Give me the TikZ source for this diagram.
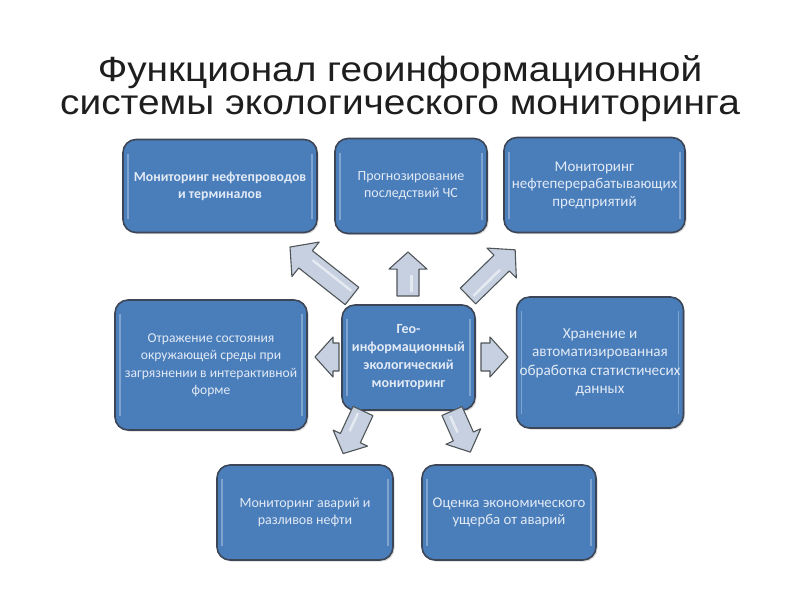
\documentclass[tikz,border=0pt]{standalone}
\usepackage{fontspec}
\setmainfont{Liberation Sans}
\newfontfamily\titlefont[FakeStretch=1.11]{Liberation Sans}
\newfontfamily\calibfont{Carlito}
\usetikzlibrary{shadows}
\definecolor{boxblue}{HTML}{4A7EBB}
\definecolor{boxedge}{HTML}{3C4656}
\definecolor{boxtext}{HTML}{E2EAF5}
\definecolor{arrowfill}{HTML}{C6D0E0}
\definecolor{arrowedge}{HTML}{505558}
\definecolor{titletext}{HTML}{1E1E1E}

% block arrow: length, shaft width, head width
\tikzset{
  pics/fatarrow/.style n args={3}{code={
    \filldraw[arrowbody] (0,-#2/2) -- ({#1-0.45*#3},-#2/2) -- ({#1-0.45*#3},-#3/2) -- (#1,0)
      -- ({#1-0.45*#3},#3/2) -- ({#1-0.45*#3},#2/2) -- (0,#2/2) -- cycle;
    \draw[white,opacity=0.55,line width=2.5pt] (4,#2/6) -- ({max(4,#1-0.45*#3-6)},#2/6);
  }}
}

\begin{document}
\begin{tikzpicture}[x=1pt,y=-1pt,
  box/.style={rounded corners=13pt,fill=boxblue,draw=boxedge,line width=1.6pt,
    text=boxtext,align=center,inner sep=3pt,
    font=\calibfont\fontsize{14}{17}\selectfont,
    drop shadow={opacity=0.3,shadow xshift=1.5pt,shadow yshift=-1.5pt},
    path picture={
      \draw[white,opacity=0.3,line width=1.5pt]
        ([xshift=5pt,yshift=-14pt]path picture bounding box.north west) --
        ([xshift=5pt,yshift=14pt]path picture bounding box.south west);
      \draw[white,opacity=0.3,line width=1.5pt]
        ([xshift=-5pt,yshift=-14pt]path picture bounding box.north east) --
        ([xshift=-5pt,yshift=14pt]path picture bounding box.south east);
    }},
  boldbox/.style={box,font=\calibfont\bfseries\fontsize{13.8}{17}\selectfont},
  arrowbody/.style={fill=arrowfill,draw=arrowedge,line width=1.1pt,line join=round},
  title/.style={font=\titlefont\fontsize{35}{33}\selectfont,text=titletext,align=center,inner sep=0pt}]
  \useasboundingbox (0,0) rectangle (800,600);

  % Title
  \node[title,anchor=base] (title) at (400,114) {Функционал геоинформационной\\системы экологического мониторинга};

  % Centre
  \node[boldbox,font=\calibfont\bfseries\fontsize{14}{18}\selectfont,
    minimum width=133pt,minimum height=105pt] (geo) at (408.5,357.5)
    {Гео-\\информационный\\экологический\\мониторинг};

  % Top row
  \node[boldbox,minimum width=194pt,minimum height=93pt] (pipes) at (220,186)
    {Мониторинг нефтепроводов\\и терминалов};
  \node[box,minimum width=152pt,minimum height=95pt] (forecast) at (411,186)
    {Прогнозирование\\последствий ЧС};
  \node[box,font=\calibfont\fontsize{15}{17.5}\selectfont,
    minimum width=181pt,minimum height=95pt] (refinery) at (594.5,185)
    {Мониторинг\\нефтеперерабатывающих\\предприятий};

  % Middle row
  \node[box,font=\calibfont\fontsize{13.6}{17.5}\selectfont,
    minimum width=192pt,minimum height=130pt] (display) at (211,365)
    {Отражение состояния\\окружающей среды при\\загрязнении в интерактивной\\форме};
  \node[box,font=\calibfont\fontsize{15.2}{18.5}\selectfont,
    minimum width=166pt,minimum height=131pt] (storage) at (600,362.5)
    {Хранение и\\автоматизированная\\обработка статистичесих\\данных};

  % Bottom row
  \node[box,minimum width=176pt,minimum height=95pt] (spills) at (305,512.5)
    {Мониторинг аварий и\\разливов нефти};
  \node[box,font=\calibfont\fontsize{14.8}{17.5}\selectfont,
    minimum width=174pt,minimum height=95pt] (damage) at (509,512.5)
    {Оценка экономического\\ущерба от аварий};

  % Block arrows
  \pic[rotate=141.7] at (352,296) {fatarrow={79}{22}{44}};
  \pic[rotate=90] at (408,296) {fatarrow={44}{22}{38}};
  \pic[rotate=44.4] at (468,296) {fatarrow={66}{22}{42}};
  \pic[rotate=180] at (339,357) {fatarrow={24}{28}{40}};
  \pic[rotate=0] at (481,357) {fatarrow={27}{28}{40}};
  \pic[rotate=245] at (363,411) {fatarrow={47}{22}{38}};
  \pic[rotate=294] at (452,411) {fatarrow={45}{22}{38}};
\end{tikzpicture}
\end{document}
